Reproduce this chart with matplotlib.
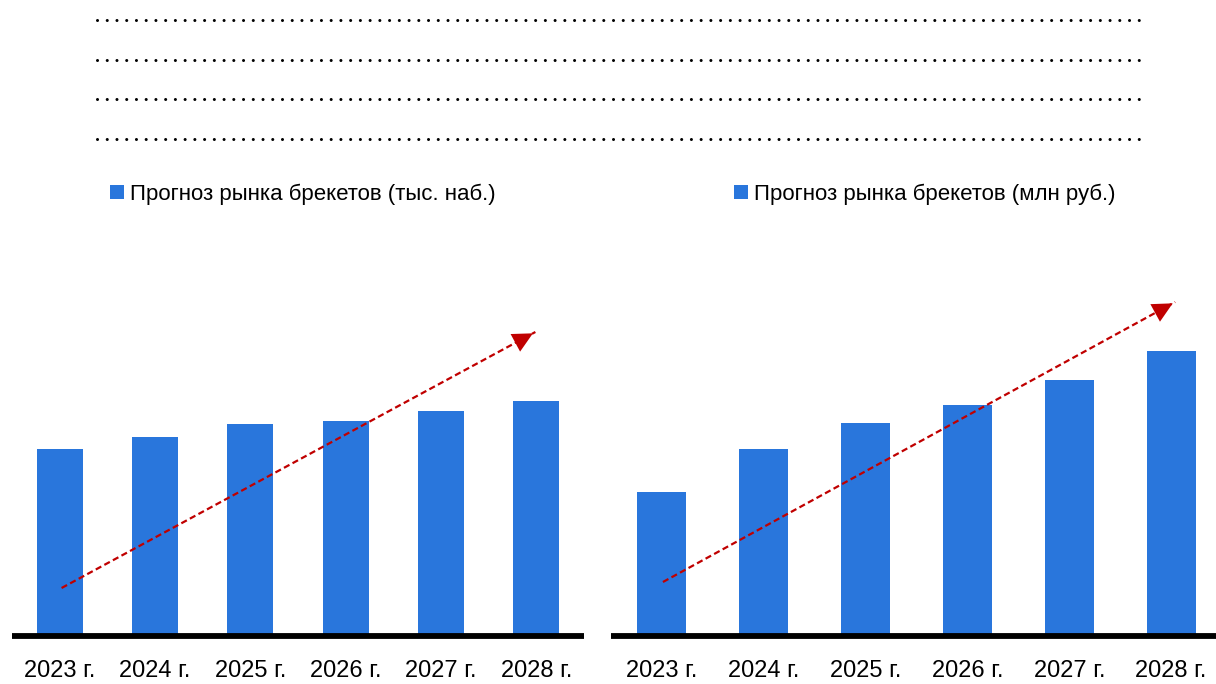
import matplotlib
matplotlib.use("Agg")
import matplotlib.pyplot as plt
from matplotlib.lines import Line2D
import numpy as np

plt.rcParams['font.family'] = ['Liberation Sans Narrow', 'Liberation Sans', 'DejaVu Sans']
plt.rcParams['lines.scale_dashes'] = False

years = ["2023 г.", "2024 г.", "2025 г.", "2026 г.", "2027 г.", "2028 г."]
units_left = [187, 199, 212, 215, 225, 235]     # тыс. наб.
money_right = [144, 187, 213, 231, 256, 285]    # млн руб.
label_left = "Прогноз рынка брекетов (тыс. наб.)"
label_right = "Прогноз рынка брекетов (млн руб.)"

BLUE = "#2976DC"
RED = "#C00000"
W, H = 1216, 684

fig = plt.figure(figsize=(W / 100, H / 100), dpi=100)

def px_box(x0, x1, y_base, y_top):
    return [x0 / W, 1 - y_base / H, (x1 - x0) / W, (y_base - y_top) / H]

ax1 = fig.add_axes(px_box(12, 584, 636, 290))
ax2 = fig.add_axes(px_box(611, 1222, 636, 290))

def draw(ax, vals, label, arrow, leg_x):
    x = np.arange(len(vals))
    bars = ax.bar(x, vals, width=0.48, color=BLUE, label=label, zorder=2)
    ax.set_xlim(-0.5, len(vals) - 0.5)
    ax.set_ylim(0, 346)
    ax.axhline(0, color="black", lw=4.2, zorder=3, clip_on=False, solid_capstyle="butt")
    for s in ax.spines.values():
        s.set_visible(False)
    ax.set_yticks([])
    ax.set_xticks(x)
    ax.set_xticklabels(years, fontsize=17)
    ax.tick_params(axis="x", length=0, pad=17)
    (x0, y0), (x1, y1) = arrow
    ax.plot([x0, x1], [y0, y1], color=RED, lw=1.6, ls=(0, (4.5, 2.5)), zorder=4)
    dx, dy = x1 - x0, y1 - y0
    ax.annotate("", xy=(x1, y1), xytext=(x1 - dx * 0.03, y1 - dy * 0.03),
                arrowprops=dict(arrowstyle="-|>,head_length=0.9,head_width=0.45",
                                color=RED, lw=0, mutation_scale=16), zorder=5)
    ax.legend(handles=[bars], loc="center left", bbox_to_anchor=(leg_x / W, 1 - 194 / H),
              bbox_transform=fig.transFigure, frameon=False, fontsize=16,
              handlelength=0.62, handleheight=0.62, handletextpad=0.3,
              borderpad=0, borderaxespad=0)

draw(ax1, units_left, label_left, ((0.02, 48), (4.99, 304)), 110)
draw(ax2, money_right, label_right, ((0.01, 54), (5.04, 334)), 734)

# dotted placeholder lines at the top
for y in [20, 60, 99, 139]:
    fig.add_artist(Line2D([97 / W, 1148 / W], [1 - y / H, 1 - y / H], color="black",
                          lw=2.2, ls=(0, (0.01, 7.0)), dash_capstyle="round"))

fig.savefig("out.png", dpi=100)
